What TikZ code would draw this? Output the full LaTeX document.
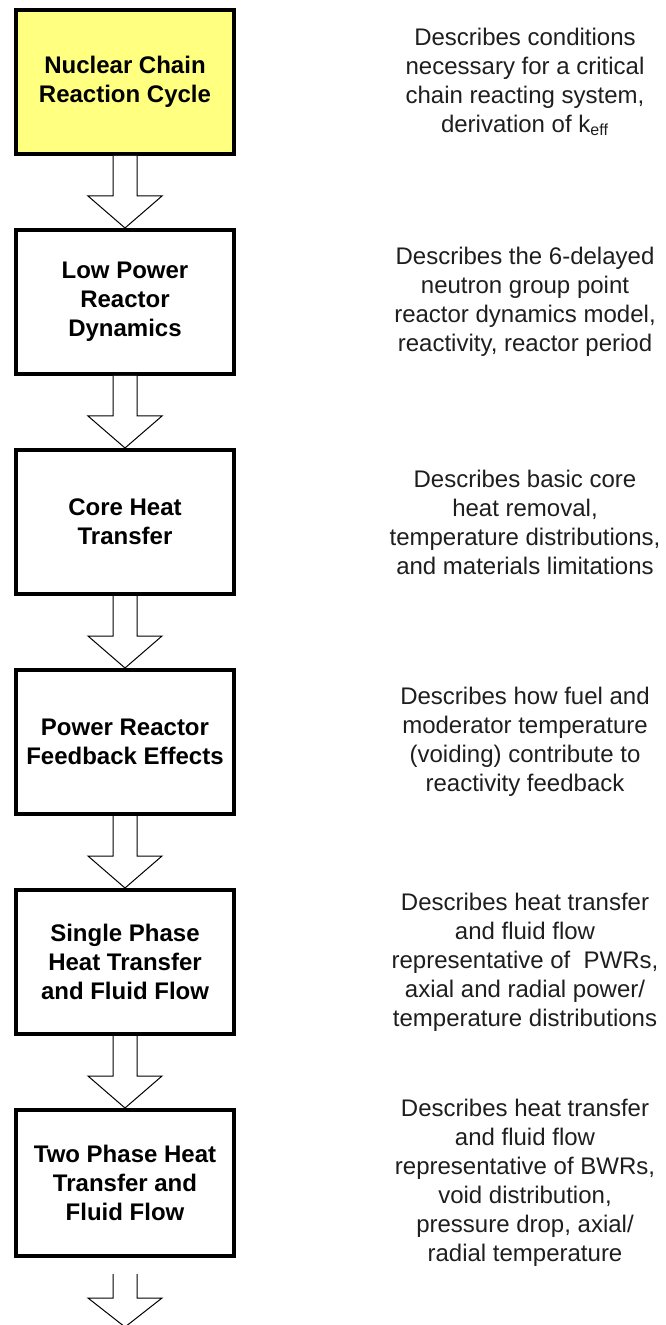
\documentclass[tikz,border=0pt]{standalone}
\usepackage{fontspec}
\setmainfont{Liberation Sans}
\usetikzlibrary{positioning,calc}
\definecolor{chainyellow}{RGB}{255,255,128}
\definecolor{desctext}{RGB}{30,30,30}
% hollow arrow: #1 tail, #2 tip, #3 head length
\newcommand{\blockarrow}[3]{%
  \draw[arrowline] ($(#1)+(-6pt,0)$) |- ($(#2)+(-18.5pt,#3)$) -- (#2)
    -- ($(#2)+(18.5pt,#3)$) -| ($(#1)+(6pt,0)$);}

\begin{document}
\begin{tikzpicture}[
  stage/.style={draw=black, line width=2pt, fill=white, minimum width=109pt,
    minimum height=72pt, align=center, font=\bfseries\fontsize{12}{14.5}\selectfont},
  desc/.style={align=center, text=desctext, font=\fontsize{12}{14.5}\selectfont},
  arrowline/.style={draw=black, line width=0.5pt, fill=white}]
	\useasboundingbox (0,0) rectangle (332.5pt,-662.5pt);

	\node[stage, fill=chainyellow] (b1) at (62.5pt,-41pt) {Nuclear Chain\\Reaction Cycle};
	\node[stage, below=36pt of b1] (b2) {Low Power\\Reactor\\Dynamics};
	\node[stage, below=36pt of b2] (b3) {Core Heat\\Transfer};
	\node[stage, below=36pt of b3] (b4) {Power Reactor\\Feedback Effects};
	\node[stage, below=36pt of b4] (b5) {Single Phase\\Heat Transfer\\and Fluid Flow};
	\node[stage, below=36pt of b5, minimum height=73pt] (b6) {Two Phase Heat\\Transfer and\\Fluid Flow};

	\node[desc] (d1) at ($(b1)+(200pt,0)$) {Describes conditions\\necessary for a critical\\chain reacting system,\\derivation of k\textsubscript{eff}};
	\node[desc] (d2) at ($(b2)+(200pt,0)$) {Describes the 6-delayed\\neutron group point\\reactor dynamics model,\\reactivity, reactor period};
	\node[desc] (d3) at ($(b3)+(200pt,0)$) {Describes basic core\\heat removal,\\temperature distributions,\\and materials limitations};
	\node[desc] (d4) at ($(b4)+(200pt,0)$) {Describes how fuel and\\moderator temperature\\(voiding) contribute to\\reactivity feedback};
	\node[desc] (d5) at ($(b5)+(200pt,0)$) {Describes heat transfer\\and fluid flow\\representative of~ PWRs,\\axial and radial power/\\temperature distributions};
	\node[desc] (d6) at ($(b6)+(200pt,0)$) {Describes heat transfer\\and fluid flow\\representative of BWRs,\\void distribution,\\pressure drop, axial/\\radial temperature};

	\blockarrow{b1.south}{b2.north}{16pt}
	\blockarrow{b2.south}{b3.north}{16pt}
	\blockarrow{b3.south}{b4.north}{16pt}
	\blockarrow{b4.south}{b5.north}{16pt}
	\blockarrow{b5.south}{b6.north}{16pt}

	\coordinate (tail) at ($(b6.south)+(0,-8pt)$);
	\coordinate (tip) at ($(b6.south)+(0,-34.5pt)$);
	\blockarrow{tail}{tip}{14.5pt}
\end{tikzpicture}
\end{document}
